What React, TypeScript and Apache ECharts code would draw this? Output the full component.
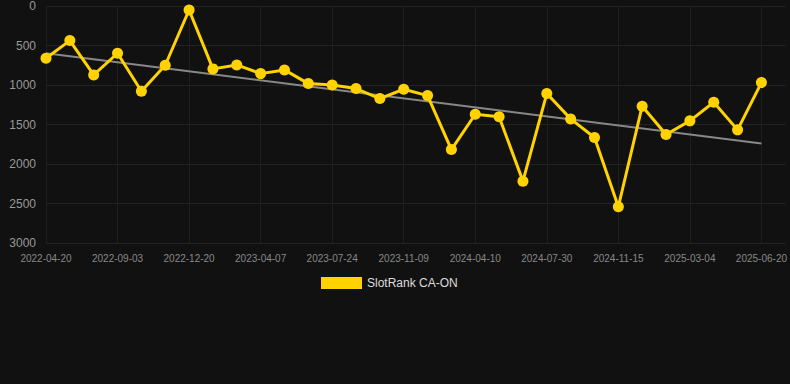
import React, { useEffect, useRef } from "react";
import * as echarts from "echarts";

const dates: string[] = [
  "2022-04-20", "2022-06-04", "2022-07-19", "2022-09-03", "2022-10-09", "2022-11-14",
  "2022-12-20", "2023-01-25", "2023-03-02", "2023-04-07", "2023-05-13", "2023-06-18",
  "2023-07-24", "2023-08-29", "2023-10-04", "2023-11-09", "2023-12-30", "2024-02-19",
  "2024-04-10", "2024-05-17", "2024-06-23", "2024-07-30", "2024-09-04", "2024-10-10",
  "2024-11-15", "2024-12-21", "2025-01-27", "2025-03-04", "2025-04-09", "2025-05-15",
  "2025-06-20",
];

const rankValues: number[] = [
  661, 438, 872, 598, 1079, 750, 51, 796, 746, 856, 809, 982, 999, 1045, 1172,
  1054, 1134, 1817, 1370, 1403, 2217, 1108, 1429, 1665, 2541, 1268, 1627, 1454,
  1218, 1568, 969,
];

const trendStart = 598;
const trendEnd = 1740;

const seriesName = "SlotRank CA-ON";

export default function App() {
  const ref = useRef<HTMLDivElement>(null);
  useEffect(() => {
    document.body.style.margin = "0";
    document.body.style.background = "#111111";
    if (!ref.current) return;
    const chart = echarts.init(ref.current, undefined, { renderer: "svg" });
    const categories = [...dates, ""];
    chart.setOption({
      animation: false,
      backgroundColor: "#111111",
      grid: { left: 46, right: 4, top: 6, bottom: 141 },
      legend: {
        data: [{ name: seriesName, icon: "rect" }],
        top: 272,
        left: 316,
        itemWidth: 41,
        itemHeight: 12,
        itemGap: 10,
        textStyle: { color: "#dddddd", fontSize: 12, fontFamily: "Arial, Liberation Sans, sans-serif" },
      },
      xAxis: {
        type: "category",
        data: categories,
        boundaryGap: false,
        axisLine: { show: false },
        axisTick: { show: false },
        axisLabel: {
          interval: 2,
          color: "#888888",
          fontSize: 10,
          margin: 10,
          fontFamily: "Arial, Liberation Sans, sans-serif",
        },
        splitLine: { show: true, interval: 2, lineStyle: { color: "#1f1f1f", width: 1 } },
      },
      yAxis: {
        type: "value",
        inverse: true,
        min: 0,
        max: 3000,
        interval: 500,
        axisLine: { show: false },
        axisTick: { show: false },
        axisLabel: {
          color: "#999999",
          fontSize: 12,
          margin: 10,
          formatter: (v: number) => String(v),
          fontFamily: "Arial, Liberation Sans, sans-serif",
        },
        splitLine: { show: true, lineStyle: { color: "#232323", width: 1 } },
      },
      series: [
        {
          name: "Trend",
          type: "line",
          data: [
            [dates[0], trendStart],
            [dates[dates.length - 1], trendEnd],
          ],
          symbol: "none",
          lineStyle: { color: "#888888", width: 2 },
          itemStyle: { color: "#888888" },
          z: 1,
          silent: true,
        },
        {
          name: seriesName,
          type: "line",
          data: rankValues,
          symbol: "circle",
          symbolSize: 11,
          showAllSymbol: true,
          lineStyle: { color: "#FFD200", width: 3 },
          itemStyle: { color: "#FFD200" },
          z: 2,
        },
      ],
    });
    return () => chart.dispose();
  }, []);
  return <div ref={ref} style={{ width: 790, height: 384 }} />;
}
